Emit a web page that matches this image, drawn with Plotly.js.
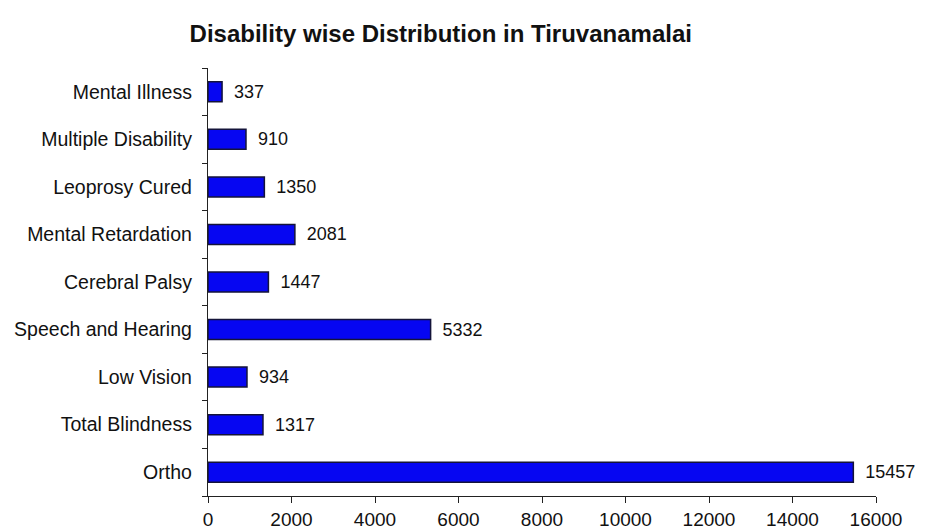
<!DOCTYPE html>
<html>
<head>
<meta charset="utf-8">
<script src="https://cdn.plot.ly/plotly-3.0.1.min.js"></script>
<style>html,body{margin:0;padding:0;background:#fff;}#chart{width:926px;height:532px;}</style>
</head>
<body>
<div id="chart"></div>
<script>
const categories = ["Ortho", "Total Blindness", "Low Vision", "Speech and Hearing", "Cerebral Palsy", "Mental Retardation", "Leoprosy Cured", "Multiple Disability", "Mental Illness"];
const values = [15457, 1317, 934, 5332, 1447, 2081, 1350, 910, 337];
const tickValues = [0, 2000, 4000, 6000, 8000, 10000, 12000, 14000, 16000];
const chartTitle = "Disability wise Distribution in Tiruvanamalai";

const trace = {
  type: "bar",
  orientation: "h",
  x: values,
  y: categories,
  width: 0.42,
  text: values.map(v => "\u2002" + String(v)),
  textposition: "outside",
  textfont: {family: "Liberation Sans, Arial, sans-serif", size: 18, color: "#111"},
  cliponaxis: false,
  marker: {color: "#0606f2", line: {color: "#14143a", width: 1.5}},
  hoverinfo: "none"
};

const layout = {
  width: 926, height: 532,
  margin: {l: 208, r: 50, t: 68, b: 36},
  paper_bgcolor: "#ffffff", plot_bgcolor: "#ffffff",
  showlegend: false,
  title: {text: "<b>" + chartTitle + "</b>", x: 0.476, xanchor: "center", y: 0.937, yanchor: "middle",
          font: {family: "Liberation Sans, Arial, sans-serif", size: 24, color: "#111"}},
  xaxis: {
    range: [0, 16000], tickvals: tickValues, ticktext: tickValues.map(String),
    showgrid: false, zeroline: false, showline: true, linecolor: "#222", linewidth: 1.2,
    ticks: "outside", ticklen: 6, tickcolor: "#222",
    tickfont: {family: "Liberation Sans, Arial, sans-serif", size: 19, color: "#111"}
  },
  yaxis: {
    type: "category", categoryorder: "array", categoryarray: categories,
    range: [-0.5, 8.5],
    showgrid: false, zeroline: false, showline: true, linecolor: "#222", linewidth: 1.2,
    ticks: "outside", ticklen: 5, tickcolor: "#222", tickson: "boundaries",
    tickfont: {family: "Liberation Sans, Arial, sans-serif", size: 19.5, color: "#111"},
    ticklabelstandoff: 11
  }
};

Plotly.newPlot("chart", [trace], layout, {displayModeBar: false, staticPlot: true});
</script>
</body>
</html>
